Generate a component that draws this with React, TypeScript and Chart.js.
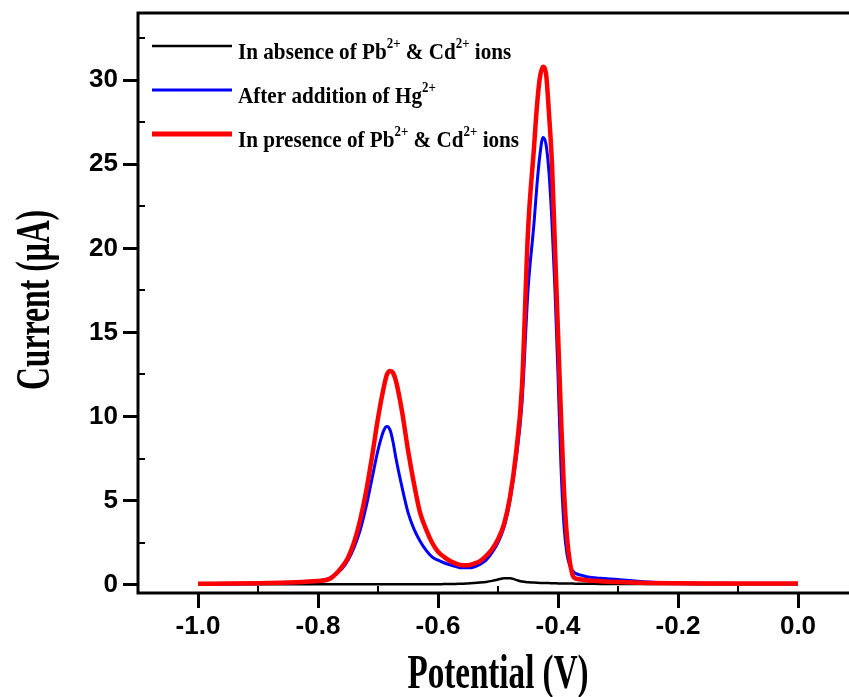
import React, { useEffect, useRef } from "react";
import { Chart, registerables } from "chart.js";

Chart.register(...registerables);

// Potential (V)
const potential = [
  -1.0, -0.95, -0.9, -0.85, -0.82, -0.8, -0.78, -0.76, -0.75, -0.74,
  -0.73, -0.72, -0.71, -0.7, -0.69, -0.685, -0.68, -0.675, -0.67, -0.66,
  -0.65, -0.64, -0.63, -0.62, -0.61, -0.6, -0.59, -0.58, -0.57, -0.56,
  -0.55, -0.54, -0.53, -0.52, -0.51, -0.5, -0.49, -0.48, -0.47, -0.46,
  -0.45, -0.44, -0.435, -0.43, -0.425, -0.42, -0.415, -0.41, -0.405, -0.4,
  -0.395, -0.39, -0.385, -0.38, -0.375, -0.37, -0.36, -0.35, -0.33, -0.3,
  -0.25, -0.2, -0.15, -0.1, -0.05, 0.0,
];

// Current (µA) — in absence of Pb2+ & Cd2+
const absence = [
  0.02, 0.02, 0.02, 0.02, 0.02, 0.02, 0.02, 0.02, 0.02, 0.02,
  0.02, 0.02, 0.02, 0.02, 0.02, 0.02, 0.02, 0.02, 0.02, 0.02,
  0.02, 0.02, 0.02, 0.02, 0.02, 0.02, 0.03, 0.03, 0.04, 0.05,
  0.07, 0.09, 0.12, 0.16, 0.22, 0.3, 0.38, 0.38, 0.28, 0.18,
  0.14, 0.12, 0.11, 0.1, 0.1, 0.09, 0.09, 0.08, 0.08, 0.07,
  0.07, 0.07, 0.06, 0.06, 0.06, 0.05, 0.05, 0.05, 0.04, 0.04,
  0.03, 0.03, 0.02, 0.02, 0.02, 0.02,
];

// Current (µA) — after addition of Hg2+
const afterHg = [
  0.03, 0.04, 0.06, 0.1, 0.15, 0.22, 0.4, 0.95, 1.45, 2.2,
  3.2, 4.6, 6.3, 8.0, 9.2, 9.4, 9.2, 8.5, 7.5, 5.8,
  4.3, 3.3, 2.6, 2.05, 1.65, 1.45, 1.3, 1.17, 1.07, 1.0,
  1.0, 1.05, 1.2, 1.45, 1.9, 2.5, 3.4, 5.0, 7.4, 10.8,
  17.5, 21.5, 23.8, 25.6, 26.6, 26.2, 24.5, 21.5, 17.5, 12.5,
  7.0, 3.5, 1.8, 1.1, 0.8, 0.65, 0.55, 0.45, 0.38, 0.3,
  0.15, 0.1, 0.08, 0.07, 0.06, 0.05,
];

// Current (µA) — in presence of Pb2+ & Cd2+
const presence = [
  0.05, 0.06, 0.08, 0.12, 0.17, 0.22, 0.35, 1.05, 1.6, 2.5,
  3.8, 5.5, 7.6, 9.9, 11.8, 12.5, 12.7, 12.6, 12.1, 10.3,
  8.0, 6.0, 4.3, 3.3, 2.5, 1.95, 1.65, 1.4, 1.25, 1.15,
  1.15, 1.25, 1.4, 1.7, 2.1, 2.7, 3.6, 5.2, 7.8, 11.8,
  21, 26, 28.5, 30.2, 30.8, 30.4, 28, 25, 20, 15,
  10, 5.6, 2.8, 1.3, 0.5, 0.35, 0.3, 0.25, 0.2, 0.15,
  0.1, 0.08, 0.07, 0.07, 0.06, 0.06,
];

const xTicks = [-1.0, -0.8, -0.6, -0.4, -0.2, 0.0];
const yTicks = [0, 5, 10, 15, 20, 25, 30];
const xMinorTicks = [-0.9, -0.7, -0.5, -0.3, -0.1];
const yMinorTicks = [2.5, 7.5, 12.5, 17.5, 22.5, 27.5, 32.5];

const seriesColors = ["#000000", "#0000ff", "#ff0000"];
const seriesWidths = [2.5, 3, 4.5];
const legendLineWidths = [2.5, 3, 5];
// legend text segments: [text, isSuperscript]
const legendSegments: [string, boolean][][] = [
  [["In absence of Pb", false], ["2+", true], [" & Cd", false], ["2+", true], [" ions", false]],
  [["After addition of Hg", false], ["2+", true]],
  [["In presence of Pb", false], ["2+", true], [" & Cd", false], ["2+", true], [" ions", false]],
];
const seriesNames = [
  "In absence of Pb2+ & Cd2+ ions",
  "After addition of Hg2+",
  "In presence of Pb2+ & Cd2+ ions",
];
const xTitle = "Potential (V)";
const yTitle = "Current (\u03bcA)";

const SERIF = "'Liberation Serif', 'Times New Roman', serif";
const SANS = "'Liberation Sans', Arial, sans-serif";

const CANVAS_W = 870;
const CANVAS_H = 697;

const framePlugin = {
  id: "frameAndLegend",
  afterDraw(chart: any) {
    const { ctx, chartArea, scales } = chart;
    const { left, top, right, bottom } = chartArea;
    const x = scales.x;
    const y = scales.y;
    ctx.save();
    // frame
    ctx.strokeStyle = "#000";
    ctx.lineWidth = 3;
    ctx.beginPath();
    ctx.rect(left, top, right - left, bottom - top);
    ctx.stroke();
    // minor ticks (inward)
    ctx.lineWidth = 2;
    ctx.beginPath();
    for (const v of yMinorTicks) {
      const py = Math.round(y.getPixelForValue(v));
      ctx.moveTo(left, py);
      ctx.lineTo(left + 7, py);
    }
    for (const v of xMinorTicks) {
      const px = Math.round(x.getPixelForValue(v));
      ctx.moveTo(px, bottom);
      ctx.lineTo(px, bottom - 7);
    }
    ctx.stroke();

    // legend
    const rowYs = [top + 33, top + 77, top + 121];
    const k = 0.92;
    for (let i = 0; i < legendSegments.length; i++) {
      const ly = rowYs[i];
      ctx.strokeStyle = seriesColors[i];
      ctx.lineWidth = legendLineWidths[i];
      ctx.beginPath();
      ctx.moveTo(left + 14, ly);
      ctx.lineTo(left + 94, ly);
      ctx.stroke();

      ctx.save();
      ctx.translate(left + 100, ly + 13);
      ctx.scale(k, 1);
      ctx.fillStyle = "#000";
      ctx.textBaseline = "alphabetic";
      ctx.textAlign = "left";
      let cx = 0;
      for (const [txt, sup] of legendSegments[i]) {
        ctx.font = sup ? `bold 14px ${SERIF}` : `bold 23px ${SERIF}`;
        ctx.fillText(txt, cx, sup ? -11 : 0);
        cx += ctx.measureText(txt).width;
      }
      ctx.restore();
    }

    // axis titles
    ctx.fillStyle = "#000";
    ctx.font = `bold 48px ${SERIF}`;
    ctx.textAlign = "center";
    ctx.textBaseline = "alphabetic";
    ctx.save();
    ctx.translate((left + right) / 2, 688);
    ctx.scale(0.69, 1);
    ctx.fillText(xTitle, 0, 0);
    ctx.restore();

    ctx.save();
    ctx.translate(49, 300);
    ctx.rotate(-Math.PI / 2);
    ctx.scale(0.66, 1);
    ctx.fillText(yTitle, 0, 0);
    ctx.restore();

    ctx.restore();
  },
};

export default function App() {
  const canvasRef = useRef<HTMLCanvasElement | null>(null);

  useEffect(() => {
    const canvas = canvasRef.current;
    if (!canvas) return;
    const series = [absence, afterHg, presence];
    const chart = new Chart(canvas, {
      type: "line",
      data: {
        datasets: series.map((vals, i) => ({
          label: seriesNames[i],
          data: potential.map((p, j) => ({ x: p, y: vals[j] })),
          borderColor: seriesColors[i],
          backgroundColor: seriesColors[i],
          borderWidth: seriesWidths[i],
          pointRadius: 0,
          fill: false,
          cubicInterpolationMode: "monotone" as const,
          order: 2 - i,
        })),
      },
      options: {
        animation: false,
        responsive: false,
        maintainAspectRatio: false,
        layout: { padding: { top: 13, right: CANVAS_W - 858, left: 0, bottom: 0 } },
        plugins: { legend: { display: false }, tooltip: { enabled: false } },
        scales: {
          x: {
            type: "linear",
            min: -1.1,
            max: 0.1,
            afterBuildTicks: (s: any) => {
              s.ticks = xTicks.map((v) => ({ value: v }));
            },
            afterFit: (s: any) => {
              s.height = CANVAS_H - 593;
              s.paddingLeft = 0;
              s.paddingRight = 0;
            },
            grid: {
              drawOnChartArea: false,
              drawTicks: true,
              tickLength: 15,
              lineWidth: 3,
              color: "#000",
            },
            border: { display: false },
            ticks: {
              color: "#000",
              padding: 3,
              autoSkip: false,
              maxRotation: 0,
              font: { family: SANS, size: 26, weight: "bold" },
              callback: (v: any) => Number(v).toFixed(1),
            },
          },
          y: {
            type: "linear",
            min: -0.5,
            max: 34,
            afterBuildTicks: (s: any) => {
              s.ticks = yTicks.map((v) => ({ value: v }));
            },
            afterFit: (s: any) => {
              s.width = 138;
              s.paddingTop = 0;
              s.paddingBottom = 0;
            },
            grid: {
              drawOnChartArea: false,
              drawTicks: true,
              tickLength: 15,
              lineWidth: 3,
              color: "#000",
            },
            border: { display: false },
            ticks: {
              color: "#000",
              padding: 5,
              autoSkip: false,
              font: { family: SANS, size: 26, weight: "bold" },
              callback: (v: any) => String(v),
            },
          },
        },
      },
      plugins: [framePlugin],
    } as any);
    return () => chart.destroy();
  }, []);

  return (
    <div
      style={{
        position: "fixed",
        left: 0,
        top: 0,
        width: 849,
        height: 697,
        overflow: "hidden",
        background: "#fff",
      }}
    >
      <canvas
        ref={canvasRef}
        width={CANVAS_W}
        height={CANVAS_H}
        style={{ width: CANVAS_W, height: CANVAS_H, display: "block" }}
      />
    </div>
  );
}
